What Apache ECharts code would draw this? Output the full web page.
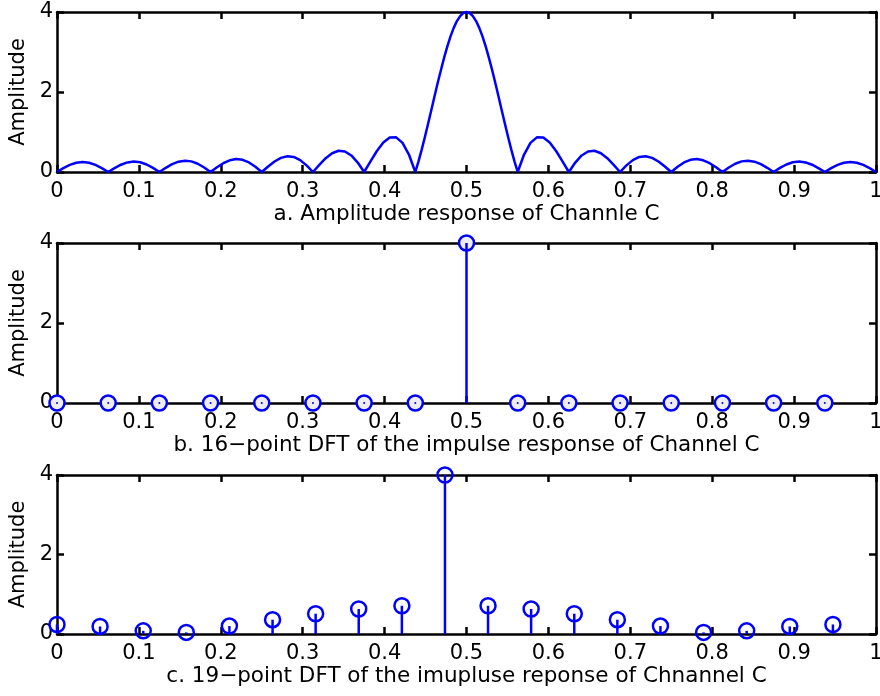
<!DOCTYPE html>
<html><head><meta charset="utf-8">
<script src="https://cdn.jsdelivr.net/npm/echarts@6/dist/echarts.min.js"></script>
<style>html,body{margin:0;padding:0;background:#fff}#c{width:880px;height:696px}</style>
</head><body><div id="c"></div>
<script>
// Panel a: amplitude response
const freqA = [0,0.0078,0.0156,0.0234,0.0313,0.0391,0.0469,0.0547,0.0625,0.0703,0.0781,0.0859,0.0938,0.1016,0.1094,0.1172,0.125,0.1328,0.1406,0.1484,0.1563,0.1641,0.1719,0.1797,0.1875,0.1953,0.2031,0.2109,0.2188,0.2266,0.2344,0.2422,0.25,0.2578,0.2656,0.2734,0.2813,0.2891,0.2969,0.3047,0.3125,0.3203,0.3281,0.3359,0.3438,0.3516,0.3594,0.3672,0.375,0.3828,0.3906,0.3984,0.4063,0.4141,0.4219,0.4297,0.4375,0.4414,0.4453,0.4492,0.4531,0.457,0.4609,0.4648,0.4688,0.4727,0.4766,0.4805,0.4844,0.4883,0.4922,0.4961,0.5,0.5039,0.5078,0.5117,0.5156,0.5195,0.5234,0.5273,0.5313,0.5352,0.5391,0.543,0.5469,0.5508,0.5547,0.5586,0.5625,0.5703,0.5781,0.5859,0.5938,0.6016,0.6094,0.6172,0.625,0.6328,0.6406,0.6484,0.6563,0.6641,0.6719,0.6797,0.6875,0.6953,0.7031,0.7109,0.7188,0.7266,0.7344,0.7422,0.75,0.7578,0.7656,0.7734,0.7813,0.7891,0.7969,0.8047,0.8125,0.8203,0.8281,0.8359,0.8438,0.8516,0.8594,0.8672,0.875,0.8828,0.8906,0.8984,0.9063,0.9141,0.9219,0.9297,0.9375,0.9453,0.9531,0.9609,0.9688,0.9766,0.9844,0.9922,1];
const ampA = [0,0.0957,0.177,0.2316,0.2512,0.2327,0.1787,0.0971,0,0.0981,0.1822,0.2397,0.2612,0.2432,0.1877,0.1025,0,0.1046,0.1956,0.2586,0.2835,0.2655,0.2061,0.1132,0,0.117,0.2201,0.293,0.3234,0.305,0.2386,0.1321,0,0.1387,0.2632,0.3536,0.3941,0.3754,0.2968,0.1661,0,0.1788,0.3439,0.4686,0.5303,0.5137,0.4135,0.2361,0,0.2658,0.5247,0.7363,0.8612,0.866,0.7275,0.4367,0,0.2665,0.5596,0.8743,1.2048,1.5446,1.8868,2.2246,2.5506,2.8579,3.1397,3.3898,3.6027,3.7735,3.8984,3.9745,4,3.9745,3.8984,3.7735,3.6027,3.3898,3.1397,2.8579,2.5506,2.2246,1.8868,1.5446,1.2048,0.8743,0.5596,0.2665,0,0.4367,0.7275,0.866,0.8612,0.7363,0.5247,0.2658,0,0.2361,0.4135,0.5137,0.5303,0.4686,0.3439,0.1788,0,0.1661,0.2968,0.3754,0.3941,0.3536,0.2632,0.1387,0,0.1321,0.2386,0.305,0.3234,0.293,0.2201,0.117,0,0.1132,0.2061,0.2655,0.2835,0.2586,0.1956,0.1046,0,0.1025,0.1877,0.2432,0.2612,0.2397,0.1822,0.0981,0,0.0971,0.1787,0.2327,0.2512,0.2316,0.177,0.0957,0];
// Panel b: 16-point DFT
const freqB = [0,0.0625,0.125,0.1875,0.25,0.3125,0.375,0.4375,0.5,0.5625,0.625,0.6875,0.75,0.8125,0.875,0.9375];
const ampB = [0,0,0,0,0,0,0,0,4,0,0,0,0,0,0,0];
// Panel c: 19-point DFT
const freqC = [0,0.0526,0.1053,0.1579,0.2105,0.2632,0.3158,0.3684,0.4211,0.4737,0.5263,0.5789,0.6316,0.6842,0.7368,0.7895,0.8421,0.8947,0.9474];
const ampC = [0.24,0.19,0.08,0.04,0.2,0.36,0.51,0.63,0.71,4,0.71,0.63,0.51,0.36,0.2,0.04,0.08,0.19,0.24];
// Texts
const xTickLabels = ['0','0.1','0.2','0.3','0.4','0.5','0.6','0.7','0.8','0.9','1'];
const yTickLabels = ['0','2','4'];
const yName = 'Amplitude';
const titles = ['a. Amplitude response of Channle C','b. 16\u2212point DFT of the impulse response of Channel C','c. 19\u2212point DFT of the imupluse reponse of Chnannel C'];

const FONT = 'DejaVu Sans';
const FS = 21;
const BLUE = '#0000ff';
const grids = [
  {left:57, right:4, top:12, height:160, containLabel:false, outerBoundsMode:'none'},
  {left:57, right:4, top:243, height:160, containLabel:false, outerBoundsMode:'none'},
  {left:57, right:4, top:475, height:159, containLabel:false, outerBoundsMode:'none'}
];
const xAxes = [], yAxes = [], series = [];
const lineCommon = {show:true, onZero:false, lineStyle:{color:'#000', width:2.5}};
const tickCommon = {show:true, inside:true, length:7, lineStyle:{color:'#000', width:2.5}};
grids.forEach((g, i) => {
  xAxes.push({type:'value', gridIndex:i, position:'bottom', min:0, max:1, interval:0.1,
    axisLine:lineCommon, axisTick:tickCommon, splitLine:{show:false},
    axisLabel:{show:true, margin:9, color:'#000', fontFamily:FONT, fontSize:FS, lineHeight:21,
      hideOverlap:false, showMinLabel:true, showMaxLabel:true,
      formatter:v => xTickLabels[Math.round(v*10)]},
    name:titles[i], nameLocation:'middle', nameGap:32,
    nameTextStyle:{color:'#000', fontFamily:FONT, fontSize:21.5, lineHeight:21}});
  xAxes.push({type:'value', gridIndex:i, position:'top', min:0, max:1, interval:0.1,
    axisLine:lineCommon, axisTick:tickCommon, splitLine:{show:false}, axisLabel:{show:false}});
  yAxes.push({type:'value', gridIndex:i, position:'left', min:0, max:4, interval:2,
    axisLine:lineCommon, axisTick:tickCommon, splitLine:{show:false},
    axisLabel:{show:true, margin:4, color:'#000', fontFamily:FONT, fontSize:FS, lineHeight:21,
      formatter:v => yTickLabels[Math.round(v/2)]},
    name:yName, nameLocation:'middle', nameGap:27, nameRotate:90,
    nameTextStyle:{color:'#000', fontFamily:FONT, fontSize:FS, lineHeight:21}});
  yAxes.push({type:'value', gridIndex:i, position:'right', min:0, max:4, interval:2,
    axisLine:lineCommon, axisTick:tickCommon, splitLine:{show:false}, axisLabel:{show:false}});
});

series.push({type:'line', xAxisIndex:0, yAxisIndex:0, data:freqA.map((f,k)=>[f, ampA[k]]),
  showSymbol:false, clip:false, lineStyle:{color:BLUE, width:2.5}, z:3});

function stemSeries(fr, am, axisIdx, fill) {
  const data = fr.map((f,k)=>[f, am[k]]);
  series.push({type:'scatter', xAxisIndex:axisIdx, yAxisIndex:axisIdx, data:data,
    symbol:'circle', symbolSize:15, clip:false,
    itemStyle:{color:fill, borderColor:BLUE, borderWidth:2.5, opacity:1}, z:4});
  series.push({type:'custom', xAxisIndex:axisIdx, yAxisIndex:axisIdx, data:data, z:5,
    renderItem:(params, api) => {
      const x = api.value(0), y = api.value(1);
      const p0 = api.coord([x, 0]);
      const p1 = api.coord([x, y]);
      if (y === 0) {
        return {type:'circle', shape:{cx:p0[0], cy:p0[1], r:1}, style:{fill:BLUE}};
      }
      return {type:'line', shape:{x1:p0[0], y1:p0[1], x2:p1[0], y2:p1[1]},
        style:{stroke:BLUE, lineWidth:2.5}};
    }});
}
stemSeries(freqB, ampB, 2, '#eeeeee');
stemSeries(freqC, ampC, 4, 'rgba(0,0,0,0)');

const chart = echarts.init(document.getElementById('c'), null, {renderer:'canvas'});
chart.setOption({animation:false, backgroundColor:'#fff', grid:grids, xAxis:xAxes, yAxis:yAxes, series:series});
</script></body></html>
